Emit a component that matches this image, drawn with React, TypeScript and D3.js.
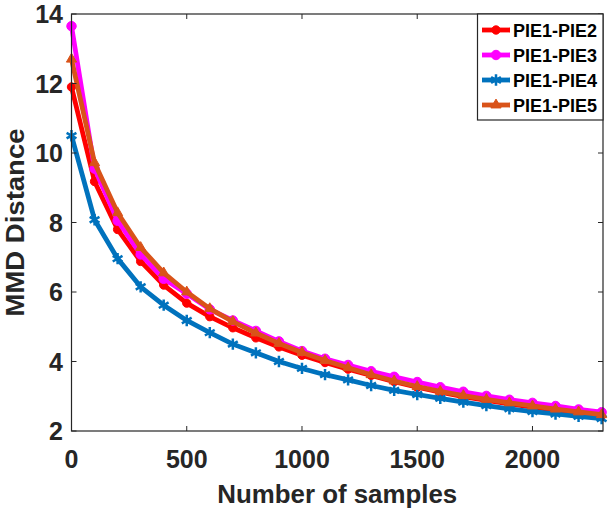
import React, { useEffect, useRef } from 'react';
import * as d3 from 'd3';

// sample counts on the x axis
const samples = [0, 100, 200, 300, 400, 500, 600, 700, 800, 900, 1000, 1100, 1200, 1300, 1400, 1500, 1600, 1700, 1800, 1900, 2000, 2100, 2200, 2300];

// MMD distance per pair
const pie12 = [11.9, 9.18, 7.8, 6.88, 6.2, 5.68, 5.29, 4.97, 4.68, 4.42, 4.18, 3.97, 3.78, 3.6, 3.42, 3.26, 3.12, 2.99, 2.88, 2.78, 2.69, 2.6, 2.52, 2.44];
const pie13 = [13.65, 9.55, 8.05, 7.08, 6.38, 5.95, 5.5, 5.18, 4.88, 4.58, 4.3, 4.08, 3.9, 3.72, 3.56, 3.41, 3.26, 3.13, 3.01, 2.9, 2.81, 2.72, 2.62, 2.54];
const pie14 = [10.5, 8.08, 6.96, 6.15, 5.62, 5.18, 4.83, 4.5, 4.25, 4.0, 3.8, 3.62, 3.47, 3.31, 3.17, 3.05, 2.94, 2.83, 2.73, 2.64, 2.56, 2.49, 2.42, 2.36];
const pie15 = [12.7, 9.72, 8.28, 7.28, 6.55, 6.0, 5.52, 5.15, 4.82, 4.52, 4.26, 4.03, 3.82, 3.62, 3.44, 3.28, 3.14, 3.02, 2.91, 2.81, 2.72, 2.63, 2.55, 2.47];

const seriesNames = ['PIE1-PIE2', 'PIE1-PIE3', 'PIE1-PIE4', 'PIE1-PIE5'];
const xTicks = [0, 500, 1000, 1500, 2000];
const yTicks = [2, 4, 6, 8, 10, 12, 14];

const App: React.FC = () => {
  const svgRef = useRef<SVGSVGElement>(null);

  useEffect(() => {
    if (!svgRef.current) return;
    const svg = d3.select(svgRef.current);
    svg.selectAll('*').remove();

    const font = 'Liberation Sans, Arial, sans-serif';
    const left = 71.5;
    const right = 603;
    const top = 14;
    const bottom = 431;

    const x = d3.scaleLinear().domain([0, 2306]).range([left, right]);
    const y = d3.scaleLinear().domain([2, 14]).range([bottom, top]);

    svg.append('rect').attr('width', 615).attr('height', 510).attr('fill', '#fff');

    const series = [
      { name: seriesNames[0], values: pie12, color: '#ff0000', symbol: d3.symbolCircle, size: 55, filled: true },
      { name: seriesNames[1], values: pie13, color: '#ff00ff', symbol: d3.symbolCircle, size: 70, filled: true },
      { name: seriesNames[2], values: pie14, color: '#0072bd', symbol: d3.symbolAsterisk, size: 90, filled: false },
      { name: seriesNames[3], values: pie15, color: '#d95319', symbol: d3.symbolTriangle, size: 45, filled: true },
    ];

    const line = d3
      .line<number>()
      .x((_, i) => x(samples[i]))
      .y(d => y(d));

    // Lines and markers
    series.forEach(s => {
      svg
        .append('path')
        .attr('d', line(s.values) as string)
        .attr('fill', 'none')
        .attr('stroke', s.color)
        .attr('stroke-width', 4.8)
        .attr('stroke-linejoin', 'round');

      const sym = d3.symbol().type(s.symbol).size(s.size);
      svg
        .append('g')
        .selectAll('path')
        .data(s.values)
        .enter()
        .append('path')
        .attr('transform', (d, i) => `translate(${x(samples[i])},${y(d)})`)
        .attr('d', sym() as string)
        .attr('fill', s.filled ? s.color : 'none')
        .attr('stroke', s.color)
        .attr('stroke-width', s.filled ? 1 : 2.5);
    });

    // Axes box
    svg
      .append('rect')
      .attr('x', left)
      .attr('y', top)
      .attr('width', right - left)
      .attr('height', bottom - top)
      .attr('fill', 'none')
      .attr('stroke', '#262626')
      .attr('stroke-width', 1.2);

    // Ticks (inside, mirrored)
    const tl = 5;
    xTicks.forEach(t => {
      svg.append('line').attr('x1', x(t)).attr('x2', x(t)).attr('y1', bottom).attr('y2', bottom - tl).attr('stroke', '#262626');
      svg.append('line').attr('x1', x(t)).attr('x2', x(t)).attr('y1', top).attr('y2', top + tl).attr('stroke', '#262626');
      svg
        .append('text')
        .attr('x', x(t))
        .attr('y', 468)
        .attr('text-anchor', 'middle')
        .attr('font-family', font)
        .attr('font-weight', 'bold')
        .attr('font-size', 25)
        .attr('fill', '#262626')
        .text(t);
    });
    yTicks.forEach(t => {
      svg.append('line').attr('x1', left).attr('x2', left + tl).attr('y1', y(t)).attr('y2', y(t)).attr('stroke', '#262626');
      svg.append('line').attr('x1', right).attr('x2', right - tl).attr('y1', y(t)).attr('y2', y(t)).attr('stroke', '#262626');
      svg
        .append('text')
        .attr('x', 63)
        .attr('y', y(t))
        .attr('dy', '0.36em')
        .attr('text-anchor', 'end')
        .attr('font-family', font)
        .attr('font-weight', 'bold')
        .attr('font-size', 25)
        .attr('fill', '#262626')
        .text(t);
    });

    // Axis labels
    svg
      .append('text')
      .attr('x', (left + right) / 2)
      .attr('y', 503)
      .attr('text-anchor', 'middle')
      .attr('font-family', font)
      .attr('font-weight', 'bold')
      .attr('font-size', 25)
      .attr('textLength', 240)
      .attr('lengthAdjust', 'spacingAndGlyphs')
      .attr('fill', '#262626')
      .text('Number of samples');

    svg
      .append('text')
      .attr('transform', `translate(23.5,${(top + bottom) / 2}) rotate(-90)`)
      .attr('text-anchor', 'middle')
      .attr('font-family', font)
      .attr('font-weight', 'bold')
      .attr('font-size', 25)
      .attr('textLength', 188)
      .attr('lengthAdjust', 'spacingAndGlyphs')
      .attr('fill', '#262626')
      .text('MMD Distance');

    // Legend
    const lg = svg.append('g');
    lg.append('rect')
      .attr('x', 477.5)
      .attr('y', top)
      .attr('width', right - 477.5)
      .attr('height', 106)
      .attr('fill', '#fff')
      .attr('stroke', '#262626')
      .attr('stroke-width', 1.2);
    series.forEach((s, i) => {
      const cy = 30 + i * 25;
      lg.append('line')
        .attr('x1', 482)
        .attr('x2', 510)
        .attr('y1', cy)
        .attr('y2', cy)
        .attr('stroke', s.color)
        .attr('stroke-width', 4.8);
      lg.append('path')
        .attr('transform', `translate(496,${cy})`)
        .attr('d', d3.symbol().type(s.symbol).size(s.size)() as string)
        .attr('fill', s.filled ? s.color : 'none')
        .attr('stroke', s.color)
        .attr('stroke-width', s.filled ? 1 : 2.5);
      lg.append('text')
        .attr('x', 513)
        .attr('y', cy + 6.5)
        .attr('font-family', font)
        .attr('font-weight', 'bold')
        .attr('font-size', 18)
        .attr('fill', '#000')
        .text(s.name);
    });
  }, []);

  return (
    <svg
      ref={svgRef}
      width={615}
      height={510}
      style={{ position: 'absolute', left: 0, top: 0, display: 'block' }}
    />
  );
};

export default App;
